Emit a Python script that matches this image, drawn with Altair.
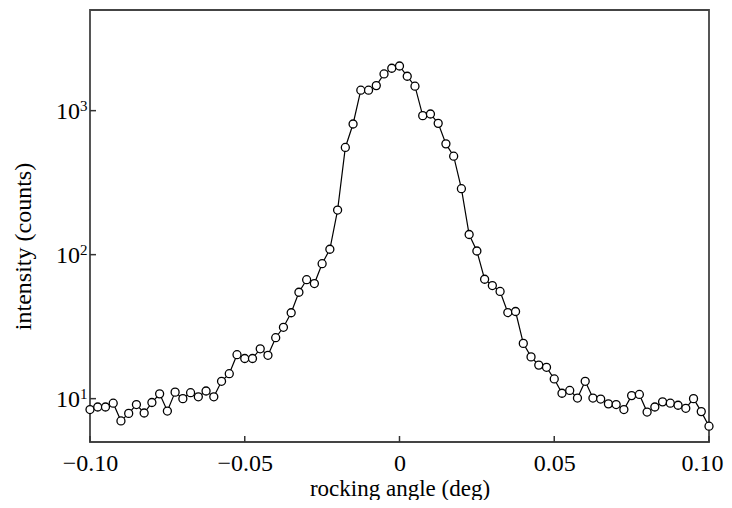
import altair as alt
import pandas as pd

# rocking angle (deg), step 0.0025 from -0.1 to 0.1 (81 points)
angle = [round(-0.1 + 0.0025 * i, 4) for i in range(81)]
intensity = [
    8.4, 8.75, 8.75, 9.3, 7.0, 7.9, 9.1, 7.95, 9.4, 10.8,
    8.2, 11.1, 10.0, 11.0, 10.3, 11.3, 10.3, 13.2, 14.9, 20.2,
    19.0, 19.0, 22.2, 20.0, 26.5, 31.3, 39.5, 54.8, 67.0, 63.0,
    86.5, 109, 204, 555, 808, 1387, 1387, 1493, 1798, 1970,
    2042, 1733, 1479, 923, 948, 816, 588, 483, 287, 138,
    106, 67.5, 61.0, 55.5, 39.6, 40.3, 24.2, 19.5, 17.1, 16.5,
    13.7, 10.9, 11.4, 10.1, 13.2, 10.1, 9.94, 9.2, 9.1, 8.4,
    10.5, 10.7, 8.07, 8.75, 9.5, 9.3, 9.0, 8.57, 10.0, 8.13,
    6.44,
]
x_ticks = [-0.1, -0.05, 0.0, 0.05, 0.1]
y_ticks = [10, 100, 1000]
y_base = ["10", "10", "10"]
y_exp = ["1", "2", "3"]

W, H = 619, 432
FONT = "Liberation Serif"
FS = 24

df = pd.DataFrame({"angle": angle, "intensity": intensity})
xt = pd.DataFrame({"t": x_ticks})
yt = pd.DataFrame({"t": y_ticks, "base": y_base, "exp": y_exp})

xscale = alt.Scale(domain=[-0.1, 0.1], nice=False, zero=False)
yscale = alt.Scale(type="log", domain=[5, 5000], nice=False)

x_axis = alt.Axis(
    values=x_ticks, ticks=False, grid=False, domain=False,
    labelExpr="datum.value == 0 ? '0' : replace(format(datum.value, '.2f'), '-', '−')",
    labelFont=FONT, labelFontSize=FS, labelColor="black", labelPadding=9,
    labelAlign={"condition": {"test": "datum.value >= 0.099", "value": "right"}, "value": "center"},
    labelOffset={"condition": {"test": "datum.value >= 0.099", "value": 14}, "value": 0},
    title="rocking angle (deg)", titleFont=FONT, titleFontSize=23,
    titleFontWeight="normal", titleColor="black", titleBaseline="alphabetic",
    titleY=53, labelFlush=False, labelOverlap=False,
)
y_axis = alt.Axis(
    values=y_ticks, ticks=False, grid=False, domain=False, labels=False,
    title="intensity (counts)", titleFont=FONT, titleFontSize=FS,
    titleFontWeight="normal", titleColor="black",
    titleX=-67, titleY=236, titleAlign="center", titleBaseline="middle",
)

line = alt.Chart(df).mark_line(color="black", strokeWidth=1.2).encode(
    x=alt.X("angle:Q", scale=xscale, axis=x_axis),
    y=alt.Y("intensity:Q", scale=yscale, axis=y_axis),
)
pts = alt.Chart(df).mark_point(
    shape="circle", filled=True, fill="white", stroke="black",
    strokeWidth=1.3, size=64, opacity=1,
).encode(x=alt.X("angle:Q", scale=xscale), y=alt.Y("intensity:Q", scale=yscale))

xtick_marks = alt.Chart(xt).mark_rule(color="#333", strokeWidth=1.5).encode(
    x=alt.X("t:Q", scale=xscale), y=alt.value(H), y2=alt.value(H - 6)
)
ytick_marks = alt.Chart(yt).mark_rule(color="#333", strokeWidth=1.5).encode(
    y=alt.Y("t:Q", scale=yscale), x=alt.value(0), x2=alt.value(6)
)
ylab_base = alt.Chart(yt).mark_text(
    font=FONT, fontSize=FS, color="black", align="right",
    baseline="alphabetic", dx=-10, dy=8,
).encode(y=alt.Y("t:Q", scale=yscale), x=alt.value(0), text="base:N")
ylab_exp = alt.Chart(yt).mark_text(
    font=FONT, fontSize=15, color="black", align="left",
    baseline="alphabetic", dx=-10, dy=0,
).encode(y=alt.Y("t:Q", scale=yscale), x=alt.value(0), text="exp:N")

chart = alt.layer(
    xtick_marks, ytick_marks, line, pts, ylab_base, ylab_exp
).properties(
    width=W, height=H,
    background="white",
    autosize=alt.AutoSizeParams(type="none"),
    padding={"left": 82, "top": 2, "right": 15, "bottom": 58},
).configure_view(
    stroke="#444", strokeWidth=1.8
)

chart.save("out.html", embed_options={"renderer": "svg", "actions": False})
